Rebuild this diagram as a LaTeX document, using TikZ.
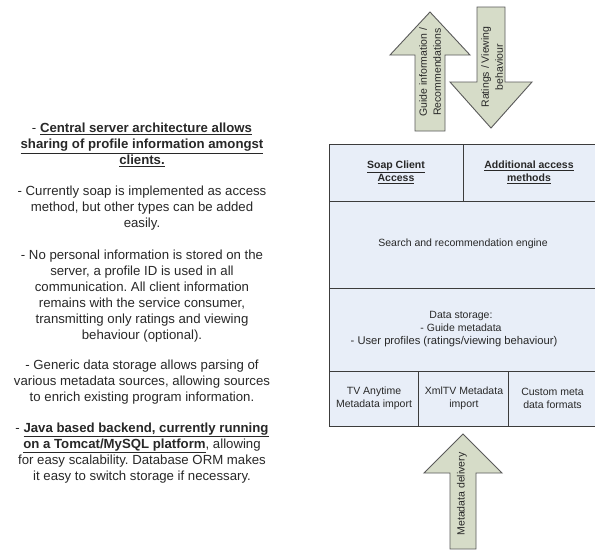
\documentclass[tikz,border=0pt]{standalone}
\usepackage{fontspec}
\setmainfont{Liberation Sans}
\frenchspacing
\definecolor{boxfill}{RGB}{232,238,248}
\definecolor{boxline}{RGB}{60,60,60}
\definecolor{arrfill}{RGB}{214,220,200}
\definecolor{arrline}{RGB}{90,90,90}
\definecolor{txt}{RGB}{40,40,40}
\tikzset{
  cell/.style={draw=boxline, fill=boxfill, line width=0.9pt},
  bigarrow/.style={draw=arrline, fill=arrfill, line width=0.9pt, line join=miter},
  lefttext/.style={align=center, text=txt, inner sep=0pt, font=\fontsize{13.2}{16}\selectfont},
  boxtext/.style={align=center, text=txt, inner sep=0pt, font=\fontsize{10.5}{13}\selectfont},
  arrtext/.style={align=center, text=txt, inner sep=0pt, rotate=90, font=\fontsize{10.5}{14}\selectfont}
}
\begin{document}
\begin{tikzpicture}[x=1pt,y=-1pt]
\useasboundingbox (0,0) rectangle (595,552);
\fill[white] (0,0) rectangle (595,552);

% left text
\node[lefttext] (p1) at (142,145) {- \underline{\textbf{Central server architecture allows}}\\ \underline{\textbf{sharing of profile information amongst}}\\ \underline{\textbf{clients.}}};
\node[lefttext] (p2) at (142,208) {- Currently soap is implemented as access\\ method, but other types can be added\\ easily.};
\node[lefttext] (p3) at (142,296) {- No personal information is stored on the\\ server, a profile ID is used in all\\ communication. All client information\\ remains with the service consumer,\\ transmitting only ratings and viewing\\ behaviour (optional).};
\node[lefttext] (p4) at (142,382) {- Generic data storage allows parsing of\\ various metadata sources, allowing sources\\ to enrich existing program information.};
\node[lefttext] (p5) at (142,453) {- \underline{\textbf{Java based backend, currently running}}\\ \underline{\textbf{on a Tomcat/MySQL platform}}, allowing\\ for easy scalability. Database ORM makes\\ it easy to switch storage if necessary.};

% top arrows
\draw[bigarrow] (415,131) -- (415,55) -- (390,55) -- (430,12) -- (470,55) -- (445,55) -- (445,131) -- cycle;
\draw[bigarrow] (477,7) -- (505,7) -- (505,82) -- (532,82) -- (491,128) -- (450,82) -- (477,82) -- cycle;
\node[arrtext] (guide) at (430,72) {Guide information /\\ Recommendations};
\node[arrtext] (ratings) at (492,67) {Ratings / Viewing\\ behaviour};

% main box
\draw[cell] (329,144) rectangle (463,201);
\draw[cell] (463,144) rectangle (595,201);
\draw[cell] (329,201) rectangle (595,288);
\draw[cell] (329,288) rectangle (595,371);
\draw[cell] (329,371) rectangle (418,426);
\draw[cell] (418,371) rectangle (508,426);
\draw[cell] (508,371) rectangle (595,426);

\node[boxtext] (soap) at (396,172) {\underline{\textbf{Soap Client}}\\ \underline{\textbf{Access}}};
\node[boxtext] (addl) at (529,172) {\underline{\textbf{Additional access}}\\ \underline{\textbf{methods}}};
\node[boxtext] (search) at (463,244) {Search and recommendation engine};
\node[boxtext] (storage) at (461,329) {Data storage:\\ - Guide metadata\\ {\fontsize{11.2}{13}\selectfont - User profiles (ratings/viewing behaviour)}\hspace*{14pt}};
\node[boxtext] (tva) at (374,398) {TV Anytime\\ Metadata import};
\node[boxtext] (xmltv) at (464,398) {XmlTV Metadata\\ import};
\node[boxtext] (custom) at (552.5,398) {Custom meta\\ data formats};

% bottom arrow
\draw[bigarrow] (450,549) -- (450,473) -- (424,473) -- (463,434) -- (502,473) -- (476,473) -- (476,549) -- cycle;
\node[arrtext] (meta) at (462,494) {Metadata delivery};
\end{tikzpicture}
\end{document}
